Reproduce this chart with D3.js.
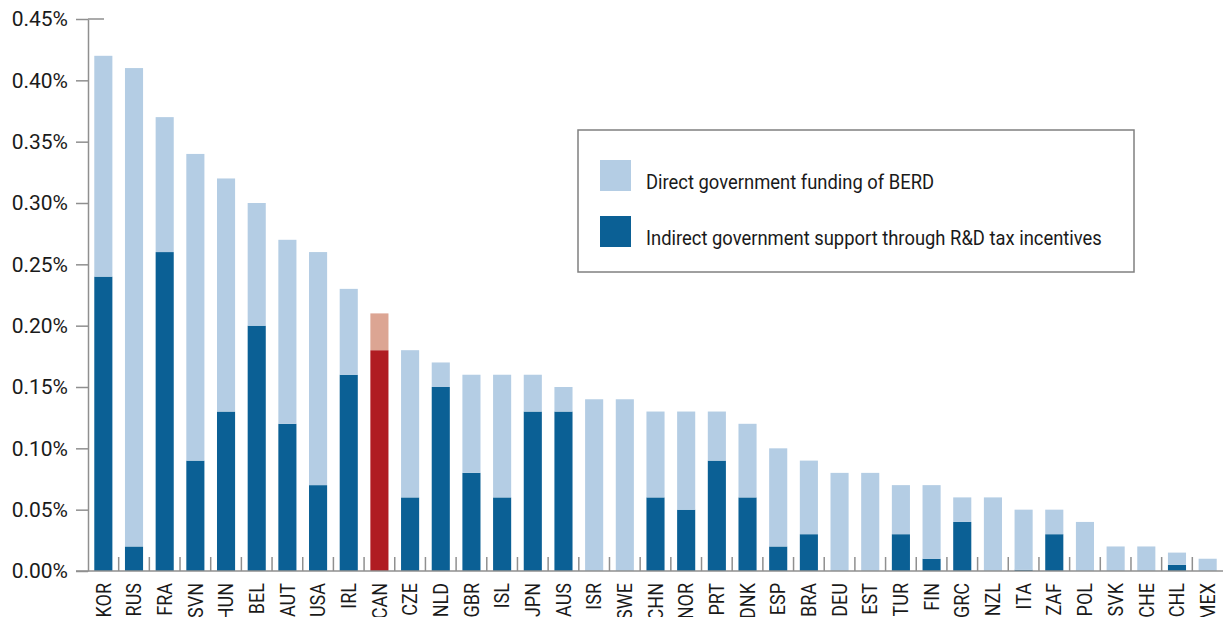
<!DOCTYPE html>
<html>
<head>
<meta charset="utf-8">
<script src="https://cdn.jsdelivr.net/npm/d3@7"></script>
<style>
  body { margin: 0; background: #fff; }
  svg { display: block; font-family: Roboto, "Open Sans", sans-serif; }
</style>
</head>
<body>
<svg></svg>
<script>
var width = 1225;
var height = 617;

// chart data (percent of GDP)
var countries = ["KOR","RUS","FRA","SVN","HUN","BEL","AUT","USA","IRL","CAN","CZE","NLD","GBR","ISL","JPN","AUS","ISR","SWE","CHN","NOR","PRT","DNK","ESP","BRA","DEU","EST","TUR","FIN","GRC","NZL","ITA","ZAF","POL","SVK","CHE","CHL","MEX"];
var taxIncentives = [0.24,0.02,0.26,0.09,0.13,0.20,0.12,0.07,0.16,0.18,0.06,0.15,0.08,0.06,0.13,0.13,0,0,0.06,0.05,0.09,0.06,0.02,0.03,0,0,0.03,0.01,0.04,0,0.001,0.03,0,0,0,0.005,0];
var directFunding = [0.18,0.39,0.11,0.25,0.19,0.10,0.15,0.19,0.07,0.03,0.12,0.02,0.08,0.10,0.03,0.02,0.14,0.14,0.07,0.08,0.04,0.06,0.08,0.06,0.08,0.08,0.04,0.06,0.02,0.06,0.049,0.02,0.04,0.02,0.02,0.01,0.01];
var yTicks = [0,0.05,0.10,0.15,0.20,0.25,0.30,0.35,0.40,0.45];
var seriesNames = ["Direct government funding of BERD", "Indirect government support through R&D tax incentives"];
var highlight = "CAN";

var colors = { direct: "#b4cde4", indirect: "#0b6095" };
var highlightColors = { direct: "#dca593", indirect: "#b01c22" };
var axisColor = "#8f8f8f";

var svg = d3.select("svg").attr("width", width).attr("height", height);
svg.append("rect").attr("width", width).attr("height", height).attr("fill", "#fff");

var rows = countries.map(function(c, i) {
  return { country: c, indirect: taxIncentives[i], direct: directFunding[i] };
});

var xScale = d3.scaleBand()
  .domain(countries)
  .range([88, 1223])
  .paddingInner(0.41)
  .paddingOuter(0.205);

var yScale = d3.scaleLinear()
  .domain([0, 0.45])
  .range([571, 19]);

var stack = d3.stack().keys(["indirect", "direct"]);
var layers = stack(rows);

// bars
svg.append("g")
  .selectAll("g")
  .data(layers)
  .enter()
  .append("g")
  .each(function(layer) {
    d3.select(this).selectAll("rect")
      .data(layer)
      .enter()
      .append("rect")
      .attr("x", function(d) { return xScale(d.data.country); })
      .attr("width", xScale.bandwidth())
      .attr("y", function(d) { return yScale(d[1]); })
      .attr("height", function(d) { return yScale(d[0]) - yScale(d[1]); })
      .attr("fill", function(d) {
        var pal = d.data.country === highlight ? highlightColors : colors;
        return pal[layer.key];
      });
  });

// y axis
var yAxis = svg.append("g")
  .attr("transform", "translate(88,0)")
  .call(d3.axisLeft(yScale)
    .tickValues(yTicks)
    .tickSize(12)
    .tickSizeOuter(0)
    .tickPadding(8)
    .tickFormat(function(d) { return d.toFixed(2) + "%"; }));
yAxis.select(".domain").attr("stroke", axisColor).attr("stroke-width", 1.5);
yAxis.selectAll(".tick line").attr("stroke", axisColor).attr("stroke-width", 1.5);
yAxis.selectAll(".tick text")
  .attr("fill", "#1a1a1a")
  .style("font-size", "21px")
  .style("font-family", "Roboto, sans-serif");
yAxis.append("line")
  .attr("x1", 0).attr("x2", 16)
  .attr("y1", yScale(0.45)).attr("y2", yScale(0.45))
  .attr("stroke", axisColor).attr("stroke-width", 1.5);

// x axis
var xAxisG = svg.append("g");
xAxisG.append("line")
  .attr("x1", 76).attr("x2", 1223)
  .attr("y1", yScale(0)).attr("y2", yScale(0))
  .attr("stroke", axisColor).attr("stroke-width", 1.5);

var gap = xScale.step() * xScale.paddingInner() / 2;
xAxisG.selectAll("line.sep")
  .data(countries.slice(1))
  .enter()
  .append("line")
  .attr("class", "sep")
  .attr("x1", function(d) { return xScale(d) - gap; })
  .attr("x2", function(d) { return xScale(d) - gap; })
  .attr("y1", yScale(0))
  .attr("y2", yScale(0) - 14)
  .attr("stroke", axisColor)
  .attr("stroke-width", 1.5);

// labels are condensed a bit to look like the original narrow face
xAxisG.selectAll("text")
  .data(countries)
  .enter()
  .append("text")
  .attr("transform", function(d) {
    return "translate(" + (xScale(d) + xScale.bandwidth() / 2) + ",583) rotate(-90) scale(0.9,1)";
  })
  .attr("dy", "0.36em")
  .attr("text-anchor", "end")
  .attr("fill", "#1a1a1a")
  .style("font-size", "20px")
  .text(function(d) { return d; });

// legend
var legend = svg.append("g");
legend.append("rect")
  .attr("x", 578).attr("y", 130)
  .attr("width", 556).attr("height", 142)
  .attr("fill", "#fff")
  .attr("stroke", "#808080")
  .attr("stroke-width", 1.5);

var legendItems = legend.selectAll("g.item")
  .data([colors.direct, colors.indirect])
  .enter()
  .append("g")
  .attr("class", "item")
  .attr("transform", function(d, i) { return "translate(600," + (160 + i * 56) + ")"; });

legendItems.append("rect")
  .attr("width", 31).attr("height", 31)
  .attr("fill", function(d) { return d; });

legendItems.append("text")
  .attr("transform", "translate(46,29) scale(0.92,1)")
  .attr("fill", "#1a1a1a")
  .style("font-size", "20px")
  .text(function(d, i) { return seriesNames[i]; });
</script>
</body>
</html>
